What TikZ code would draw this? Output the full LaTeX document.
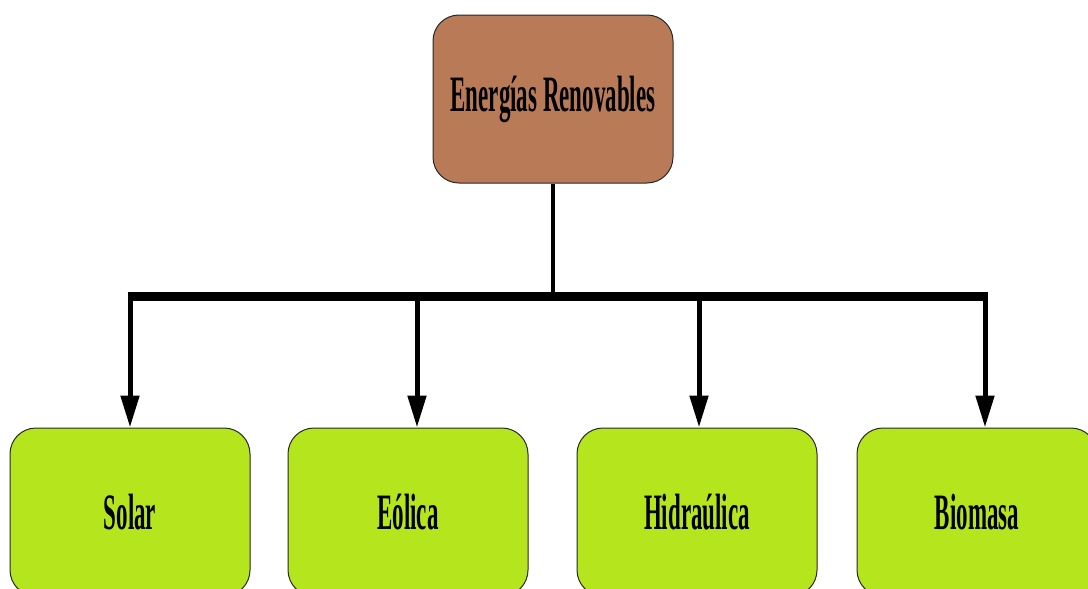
\documentclass[tikz,border=0pt]{standalone}
\usepackage{fontspec}
\setmainfont{Liberation Serif}
\usetikzlibrary{arrows.meta}
\definecolor{brownbox}{RGB}{185,122,87}
\definecolor{limebox}{RGB}{181,230,29}
\definecolor{edgegray}{RGB}{40,40,40}
\newcommand{\lbl}[1]{\scalebox{0.45}[1]{\fontsize{51}{60}\selectfont\bfseries #1}}
\begin{document}
\begin{tikzpicture}[x=1pt,y=-1pt,
  boxstyle/.style={draw=edgegray, line width=1pt, rounded corners=26pt,
    minimum width=240pt, minimum height=168pt, inner sep=0pt, text=black},
  topbox/.style={boxstyle, fill=brownbox},
  leafbox/.style={boxstyle, fill=limebox},
  arrowline/.style={line width=5pt, -{Triangle[length=32pt,width=18pt]}},
]
\useasboundingbox (0,0) rectangle (1088,589);
\node[topbox] (root) at (553,99) {\lbl{Energías Renovables}};
\node[leafbox] (solar) at (130,512) {\lbl{Solar}};
\node[leafbox] (eolica) at (408,512) {\lbl{Eólica}};
\node[leafbox] (hidra) at (697,512) {\lbl{Hidraúlica}};
\node[leafbox] (bio) at (977,512) {\lbl{Biomasa}};
\coordinate (b1) at (130,296);
\coordinate (b2) at (417,296);
\coordinate (b3) at (699,296);
\coordinate (b4) at (985,296);
\draw[line width=4.5pt] (root.south) -- (root.south |- b1);
\draw[line width=9pt, shorten <=-2.5pt, shorten >=-2.5pt] (b1) -- (b4);
\draw[arrowline] (b1) -- (b1 |- solar.north);
\draw[arrowline] (b2) -- (b2 |- eolica.north);
\draw[arrowline] (b3) -- (b3 |- hidra.north);
\draw[arrowline] (b4) -- (b4 |- bio.north);
\end{tikzpicture}
\end{document}
